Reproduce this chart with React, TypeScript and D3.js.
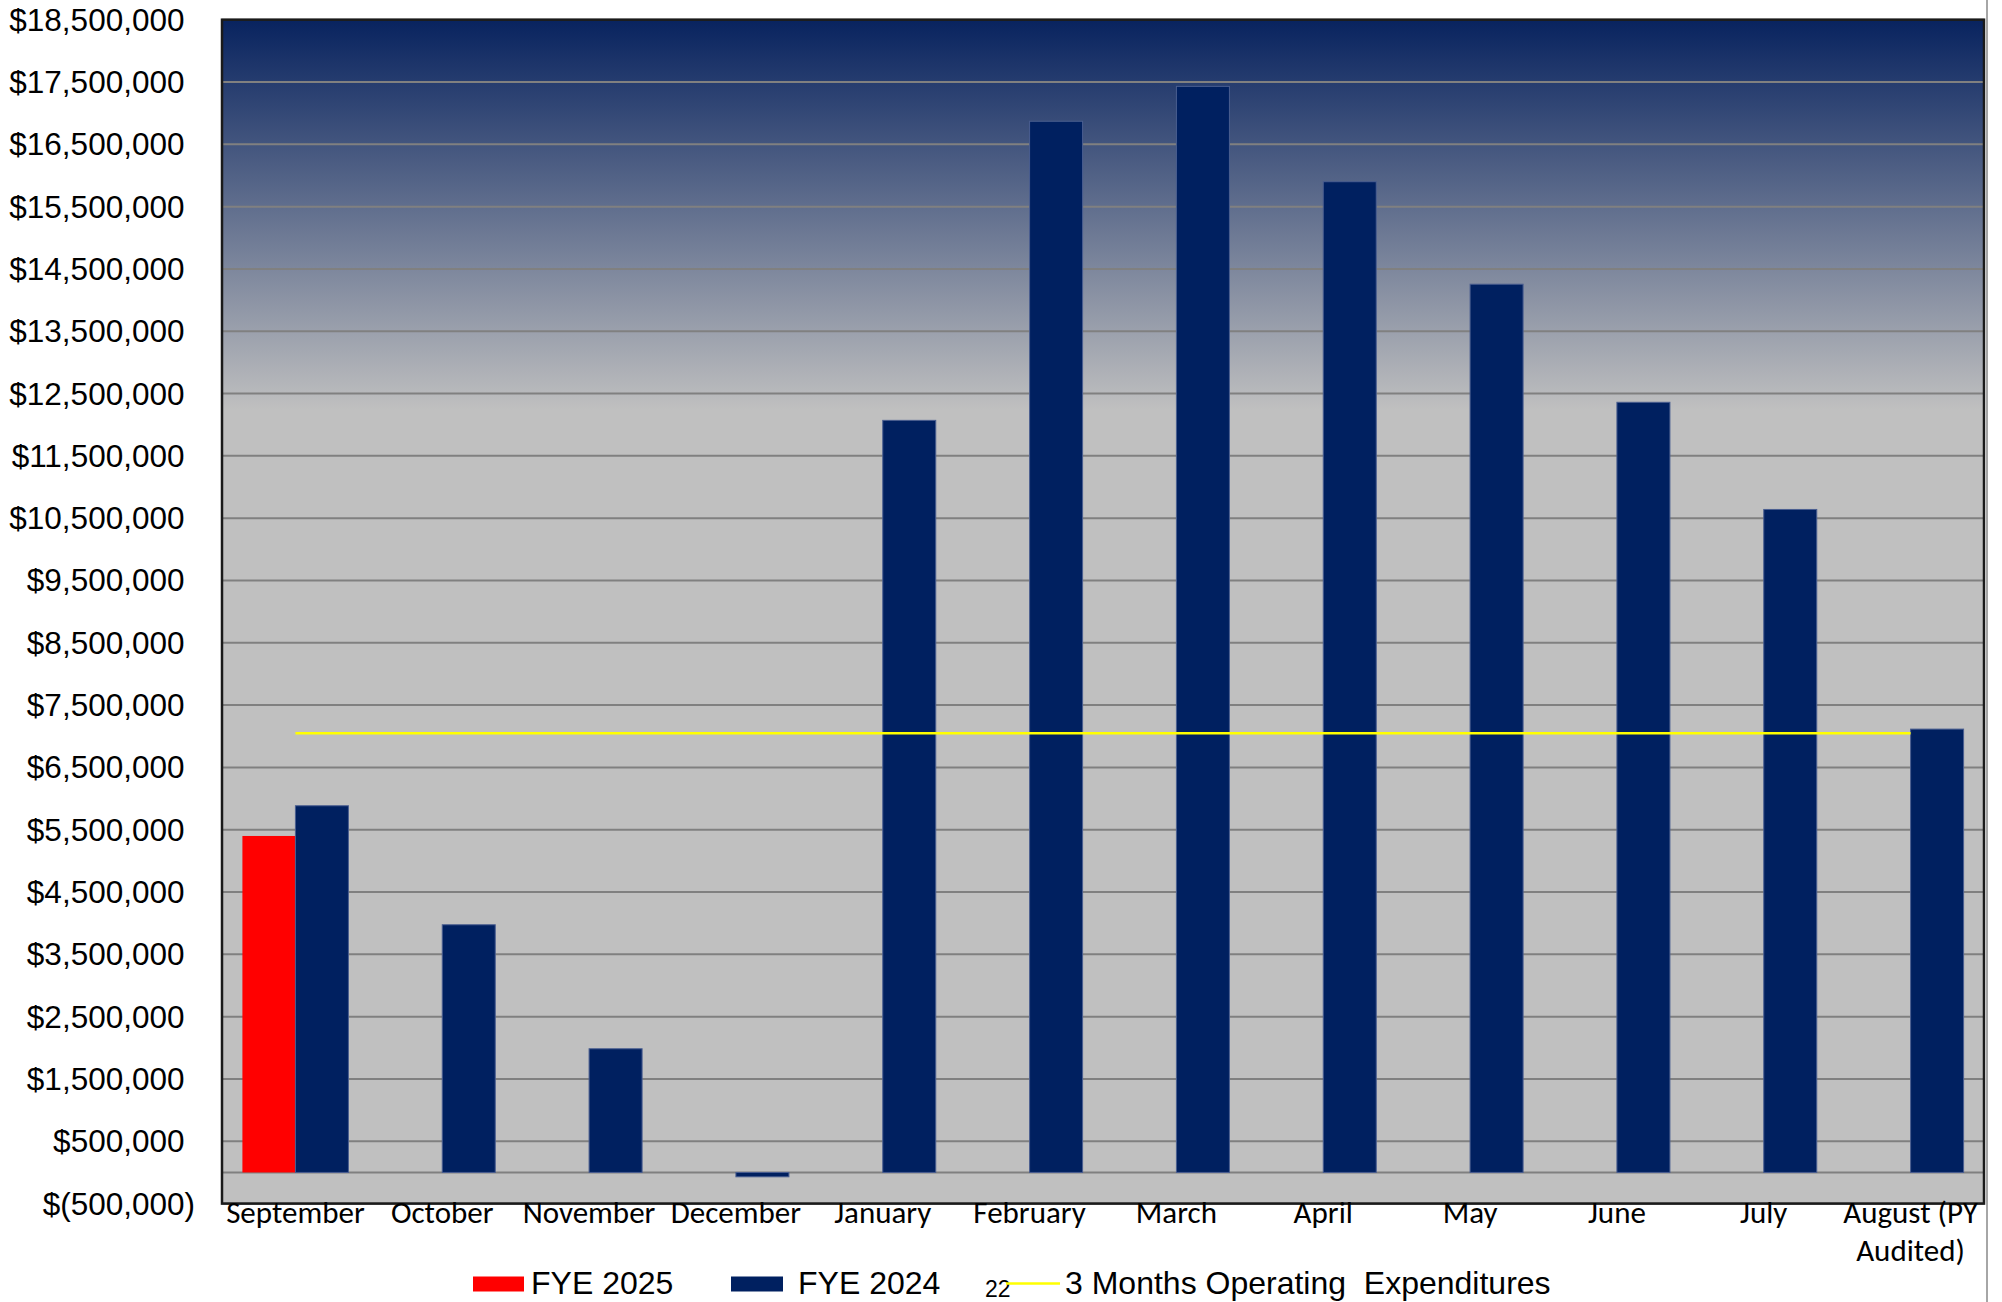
import React, { useEffect } from "react";
import * as d3 from "d3";

// Monthly balances, FYE 2025 vs FYE 2024, with the 3-month operating expenditure benchmark
const months = [
  "September", "October", "November", "December", "January", "February",
  "March", "April", "May", "June", "July", "August (PY Audited)",
];
const monthLabelLines = [
  ["September"], ["October"], ["November"], ["December"], ["January"], ["February"],
  ["March"], ["April"], ["May"], ["June"], ["July"], ["August (PY", "Audited)"],
];
const fye2025: (number | null)[] = [5400000, null, null, null, null, null, null, null, null, null, null, null];
const fye2024: number[] = [
  5885000, 3975000, 1985000, -70000, 12070000, 16870000,
  17430000, 15900000, 14255000, 12360000, 10640000, 7115000,
];
const threeMonthOpex: number[] = [
  7050000, 7050000, 7050000, 7050000, 7050000, 7050000,
  7050000, 7050000, 7050000, 7050000, 7050000, 7050000,
];
const seriesNames = ["FYE 2025", "FYE 2024"];
const yTicks = d3.range(-500000, 18500001, 1000000);

const W = 2002;
const H = 1302;
const plot = { left: 222, right: 1984, top: 19.7, bottom: 1203.6 };

const fmtNum = d3.format(",");
const fmtMoney = (v: number) => (v < 0 ? `$(${fmtNum(-v)})` : `$${fmtNum(v)}`);

const ARIAL = "'Liberation Sans', Arial, sans-serif";
const CALIBRI = "Carlito, Calibri, Lato, sans-serif";

export default function App() {
  useEffect(() => {
    document.body.style.margin = "0";
  }, []);

  const x0 = d3
    .scaleBand<string>()
    .domain(months)
    .range([plot.left, plot.right])
    .paddingInner(0.278)
    .paddingOuter(0.139);
  const x1 = d3.scaleBand<string>().domain(seriesNames).range([0, x0.bandwidth()]).padding(0);
  const y = d3.scaleLinear().domain([-500000, 18500000]).range([plot.bottom, plot.top]);

  const center = (m: string) => (x0(m) as number) + x0.bandwidth() / 2;
  const barRect = (v: number) => ({ y: Math.min(y(v), y(0)), h: Math.abs(y(v) - y(0)) });

  const line = d3
    .line<number>()
    .x((_, i) => center(months[i]))
    .y((v) => y(v));

  return (
    <svg
      width={W}
      height={H}
      style={{ position: "absolute", left: 0, top: 0, background: "#fff" }}
      xmlns="http://www.w3.org/2000/svg"
    >
      <defs>
        <linearGradient id="plotBg" gradientUnits="userSpaceOnUse" x1={0} y1={plot.top} x2={0} y2={plot.bottom}>
          <stop offset="0" stopColor="#08235f" />
          <stop offset="0.33" stopColor="#c0c0c0" />
          <stop offset="1" stopColor="#c0c0c0" />
        </linearGradient>
      </defs>

      {/* plot area */}
      <rect
        x={plot.left}
        y={plot.top}
        width={plot.right - plot.left}
        height={plot.bottom - plot.top}
        fill="url(#plotBg)"
      />

      {/* gridlines */}
      {yTicks.map((t) => (
        <line
          key={t}
          x1={plot.left}
          x2={plot.right}
          y1={y(t)}
          y2={y(t)}
          stroke="#808080"
          strokeWidth={2}
        />
      ))}
      {/* category axis at zero */}
      <line x1={plot.left} x2={plot.right} y1={y(0)} y2={y(0)} stroke="#808080" strokeWidth={2} />

      {/* bars */}
      {months.map((m, i) => {
        const v25 = fye2025[i];
        const v24 = fye2024[i];
        const bx = x0(m) as number;
        return (
          <g key={m}>
            {v25 !== null && (
              <rect
                x={bx + (x1(seriesNames[0]) as number)}
                y={barRect(v25).y}
                width={x1.bandwidth()}
                height={barRect(v25).h}
                fill="#ff0000"
              />
            )}
            <rect
              x={bx + (x1(seriesNames[1]) as number)}
              y={barRect(v24).y}
              width={x1.bandwidth()}
              height={barRect(v24).h}
              fill="#002060"
              stroke="#4a5e90"
              strokeWidth={1}
            />
          </g>
        );
      })}

      {/* 3 months operating expenditures */}
      <path d={line(threeMonthOpex) || ""} fill="none" stroke="#ffff00" strokeWidth={2.5} />

      {/* plot border */}
      <rect
        x={plot.left}
        y={plot.top}
        width={plot.right - plot.left}
        height={plot.bottom - plot.top}
        fill="none"
        stroke="#1a1a1a"
        strokeWidth={2.5}
      />

      {/* outer chart frame edge */}
      <line x1={1987} x2={1987} y1={0} y2={H} stroke="#a6a6a6" strokeWidth={2} />

      {/* y axis labels */}
      {yTicks.map((t) => (
        <text
          key={t}
          x={t < 0 ? 195 : 184.5}
          y={y(t)}
          textAnchor="end"
          dominantBaseline="central"
          fontFamily={ARIAL}
          fontSize={31.5}
          fill="#000"
        >
          {fmtMoney(t)}
        </text>
      ))}

      {/* x axis labels */}
      {months.map((m, i) => (
        <text
          key={m}
          x={center(m)}
          y={1223}
          textAnchor="middle"
          fontFamily={CALIBRI}
          fontSize={31}
          fill="#000"
        >
          {monthLabelLines[i].map((ln, j) => (
            <tspan key={j} x={center(m)} dy={j === 0 ? 0 : 38}>
              {ln}
            </tspan>
          ))}
        </text>
      ))}

      {/* legend */}
      <g fontFamily={ARIAL} fontSize={32} fill="#000">
        <rect x={473} y={1276.5} width={51} height={15} fill="#ff0000" />
        <text x={531} y={1294}>{seriesNames[0]}</text>
        <rect x={731} y={1276.5} width={52} height={15} fill="#002060" />
        <text x={798} y={1294}>{seriesNames[1]}</text>
        <text x={985} y={1296.5} fontSize={23}>22</text>
        <line x1={1006} x2={1060} y1={1283.5} y2={1283.5} stroke="#ffff00" strokeWidth={2.5} />
        <text x={1065} y={1294} style={{ whiteSpace: "pre" }}>
          {"3 Months Operating  Expenditures"}
        </text>
      </g>
    </svg>
  );
}
